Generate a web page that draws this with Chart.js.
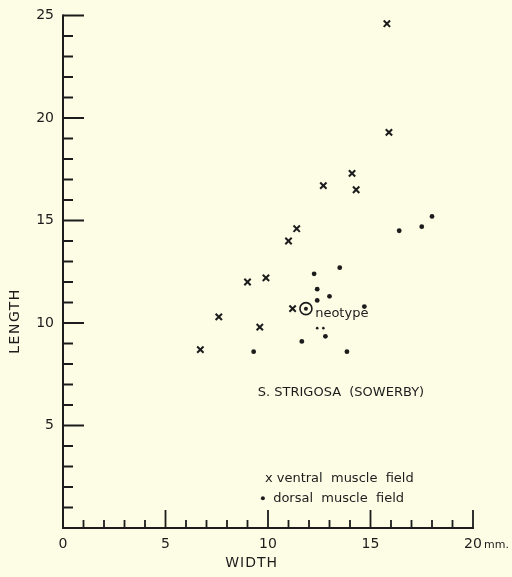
<!DOCTYPE html>
<html>
<head>
<meta charset="utf-8">
<script src="https://cdn.jsdelivr.net/npm/chart.js@4.4.1/dist/chart.umd.min.js"></script>
<style>
    html, body { margin: 0; padding: 0; background: #fdfde6; }
    #chart { display: block; }
</style>
</head>
<body>
<canvas id="chart" width="512" height="577"></canvas>
<script>
// ventral muscle field (x marks)
const ventralWidth  = [6.7, 7.6, 9.0, 9.6, 9.9, 11.0, 11.2, 11.4, 12.7, 14.1, 14.3, 15.8, 15.9];
const ventralLength = [8.7, 10.3, 12.0, 9.8, 12.2, 14.0, 10.7, 14.6, 16.7, 17.3, 16.5, 24.6, 19.3];

// dorsal muscle field (dots)
const dorsalWidth  = [9.3, 11.65, 12.25, 12.4, 12.4, 12.8, 13.0, 13.5, 13.85, 14.7, 16.4, 17.5, 18.0];
const dorsalLength = [8.6, 9.1, 12.4, 11.1, 11.65, 9.35, 11.3, 12.7, 8.6, 10.8, 14.5, 14.7, 15.2];

// two faint small dots under the neotype
const smallWidth  = [12.4, 12.7];
const smallLength = [9.75, 9.75];

// neotype
const neotypeWidth  = [11.85];
const neotypeLength = [10.7];

const xTickValues = [0, 5, 10, 15, 20];
const xTickLabels = ['0', '5', '10', '15', '20'];
const yTickValues = [5, 10, 15, 20, 25];
const yTickLabels = ['5', '10', '15', '20', '25'];

const INK = '#1c1c1c';
const FONT = '"DejaVu Sans", sans-serif';

function toPoints(xs, ys) {
    return xs.map((x, i) => ({ x: x, y: ys[i] }));
}

// axes, ticks and all text are drawn from the chart's own scales
const paperAxes = {
    id: 'paperAxes',
    beforeDatasetsDraw(chart) {
        const ctx = chart.ctx;
        const xs = chart.scales.x;
        const ys = chart.scales.y;
        const x0 = xs.getPixelForValue(0);
        const y0 = ys.getPixelForValue(0);

        ctx.save();
        ctx.strokeStyle = INK;
        ctx.lineWidth = 2;
        ctx.lineCap = 'square';
        ctx.beginPath();
        ctx.moveTo(x0, ys.getPixelForValue(25));
        ctx.lineTo(x0, y0);
        ctx.lineTo(xs.getPixelForValue(20), y0);
        ctx.stroke();

        ctx.lineWidth = 1.8;
        ctx.lineCap = 'butt';
        ctx.beginPath();
        for (let v = 1; v <= 25; v++) {
            const py = ys.getPixelForValue(v);
            const len = v % 5 === 0 ? 21 : 10;
            ctx.moveTo(x0, py);
            ctx.lineTo(x0 + len, py);
        }
        for (let v = 1; v <= 20; v++) {
            const px = xs.getPixelForValue(v);
            const len = v % 5 === 0 ? 18 : 8;
            ctx.moveTo(px, y0);
            ctx.lineTo(px, y0 - len);
        }
        ctx.stroke();
        ctx.restore();
    },
    afterDraw(chart) {
        const ctx = chart.ctx;
        const xs = chart.scales.x;
        const ys = chart.scales.y;
        const x0 = xs.getPixelForValue(0);
        const y0 = ys.getPixelForValue(0);

        ctx.save();
        ctx.fillStyle = INK;
        ctx.font = '14px ' + FONT;
        ctx.textBaseline = 'middle';

        // y tick labels
        ctx.textAlign = 'right';
        yTickValues.forEach((v, i) => {
            ctx.fillText(yTickLabels[i], x0 - 9, ys.getPixelForValue(v));
        });

        // x tick labels
        ctx.textAlign = 'center';
        xTickValues.forEach((v, i) => {
            ctx.fillText(xTickLabels[i], xs.getPixelForValue(v), y0 + 16);
        });
        ctx.textAlign = 'left';
        ctx.font = '11px ' + FONT;
        ctx.fillText('mm.', xs.getPixelForValue(20) + 11, y0 + 17);

        // axis titles
        ctx.font = '14px ' + FONT;
        ctx.textAlign = 'center';
        ctx.letterSpacing = '1px';
        ctx.fillText('WIDTH', xs.getPixelForValue(9.2), y0 + 35);
        ctx.save();
        ctx.translate(15, ys.getPixelForValue(10.1));
        ctx.rotate(-Math.PI / 2);
        ctx.letterSpacing = '1.5px';
        ctx.fillText('LENGTH', 0, 0);
        ctx.restore();
        ctx.letterSpacing = '0px';

        // annotations
        ctx.textAlign = 'left';
        ctx.font = '13px ' + FONT;
        ctx.fillText('neotype', xs.getPixelForValue(12.3), ys.getPixelForValue(10.45));
        ctx.fillText('S. STRIGOSA  (SOWERBY)', xs.getPixelForValue(9.5), ys.getPixelForValue(6.6));

        // legend
        ctx.font = '13px ' + FONT;
        ctx.fillText('x ventral  muscle  field', xs.getPixelForValue(9.85), ys.getPixelForValue(2.4));
        ctx.beginPath();
        ctx.arc(xs.getPixelForValue(9.75), ys.getPixelForValue(1.45), 2, 0, Math.PI * 2);
        ctx.fill();
        ctx.fillText('dorsal  muscle  field', xs.getPixelForValue(10.25), ys.getPixelForValue(1.45));
        ctx.restore();
    }
};

new Chart(document.getElementById('chart'), {
    type: 'scatter',
    data: {
        datasets: [
            {
                label: 'ventral muscle field',
                data: toPoints(ventralWidth, ventralLength),
                pointStyle: 'crossRot',
                radius: 4.5,
                borderColor: INK,
                borderWidth: 2
            },
            {
                label: 'dorsal muscle field',
                data: toPoints(dorsalWidth, dorsalLength),
                pointStyle: 'circle',
                radius: 2.4,
                backgroundColor: INK,
                borderColor: INK,
                borderWidth: 0
            },
            {
                label: 'small',
                data: toPoints(smallWidth, smallLength),
                pointStyle: 'circle',
                radius: 1.3,
                backgroundColor: INK,
                borderColor: INK,
                borderWidth: 0
            },
            {
                label: 'neotype ring',
                data: toPoints(neotypeWidth, neotypeLength),
                pointStyle: 'circle',
                radius: 6,
                backgroundColor: 'rgba(0,0,0,0)',
                borderColor: INK,
                borderWidth: 1.6
            },
            {
                label: 'neotype',
                data: toPoints(neotypeWidth, neotypeLength),
                pointStyle: 'circle',
                radius: 2,
                backgroundColor: INK,
                borderColor: INK,
                borderWidth: 0
            }
        ]
    },
    options: {
        responsive: false,
        devicePixelRatio: 1,
        animation: false,
        clip: false,
        layout: { padding: { left: 63, top: 15.5, right: 39, bottom: 49 } },
        scales: {
            x: { type: 'linear', min: 0, max: 20, display: false },
            y: { type: 'linear', min: 0, max: 25, display: false }
        },
        plugins: {
            legend: { display: false },
            tooltip: { enabled: false }
        },
        elements: { point: { hoverRadius: 0 } }
    },
    plugins: [paperAxes]
});
</script>
</body>
</html>
